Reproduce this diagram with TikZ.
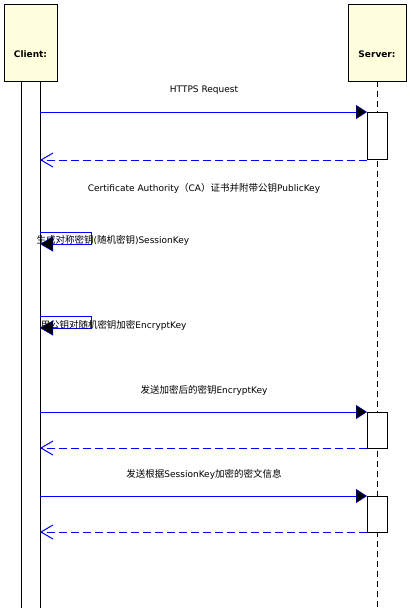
\documentclass[tikz,border=0pt]{standalone}
\usepackage{fontspec}
\setmainfont{DejaVu Sans}
\newfontfamily\cjk{Noto Sans CJK SC}
\usetikzlibrary{arrows.meta}
\definecolor{boxyellow}{RGB}{255,255,221}
\definecolor{msgblue}{RGB}{0,0,255}
\newcommand\zh[1]{{\cjk\fontsize{9.5}{11}\selectfont #1}}
\begin{document}
\begin{tikzpicture}[x=1pt,y=-1pt,line width=1pt,
  lifebox/.style={draw=black,fill=boxyellow,inner sep=0pt,outer sep=0pt,
    minimum width=#1,minimum height=77pt,anchor=north west},
  actbox/.style={draw=black,fill=white,inner sep=0pt,outer sep=0pt,
    minimum width=20pt,minimum height=#1,anchor=north west},
  boxlabel/.style={font=\fontsize{9}{11}\selectfont\bfseries},
  msglabel/.style={font=\fontsize{9}{11}\selectfont,inner sep=0pt},
  lifeline/.style={draw=black,dash pattern=on 6pt off 4pt},
  callmsg/.style={draw=msgblue,-{Triangle[length=11pt,width=14pt,fill=black,line width=0.4pt]}},
  retmsg/.style={draw=msgblue,dash pattern=on 8pt off 4pt,
    -{Straight Barb[length=12pt,width=14pt]}},
  selfmsg/.style={draw=msgblue,-{Triangle[length=13pt,width=15pt,fill=black,line width=0.4pt]}}
]
\useasboundingbox (0,0) rectangle (410,608);

% lifeline boxes
\node[lifebox=53pt] (cbox) at (4,4) {};
\node[boxlabel] (clabel) at ([yshift=-11.5pt]cbox.center) {Client:};
\node[lifebox=58pt] (sbox) at (348,4) {};
\node[boxlabel] (slabel) at ([yshift=-11.5pt]sbox.center) {Server:};

% server lifeline
\coordinate (send) at (377,608);
\draw[lifeline] (sbox.south) -- (send);

% client activation bar
\node[actbox=527pt,minimum width=19pt] (cbar) at (21,81) {};

% server activations
\node[actbox=47pt] (sact1) at (367,112) {};
\node[actbox=36pt] (sact2) at (367,412) {};
\node[actbox=36pt] (sact3) at (367,496) {};

% message 1
\coordinate (c1) at (40,112);
\coordinate (r1) at (40,160);
\draw[callmsg] (c1) -- (sact1.north west);
\draw[retmsg] (sact1.south west) ++(0,1) coordinate (r1s) (r1s) -- (r1);
\node[msglabel] (l1) at (204,90) {HTTPS Request};
\node[msglabel] (l2) at (204,188) {Certificate Authority\zh{（}CA\zh{）证书并附带公钥}PublicKey};

% self messages
\coordinate (s1a) at (40,232);
\coordinate (s1b) at (91,232);
\coordinate (s1c) at (91,244);
\coordinate (s1d) at (40,244);
\draw[selfmsg] (s1a) -- (s1b) -- (s1c) -- (s1d);
\node[msglabel,anchor=west] (l3) at (36,240) {\zh{生成对称密钥}(\zh{随机密钥})SessionKey};

\coordinate (s2a) at (40,316);
\coordinate (s2b) at (91,316);
\coordinate (s2c) at (91,328);
\coordinate (s2d) at (40,328);
\draw[selfmsg] (s2a) -- (s2b) -- (s2c) -- (s2d);
\node[msglabel,anchor=west] (l4) at (40,325) {\zh{用公钥对随机密钥加密}EncryptKey};

% message 2
\coordinate (c2) at (40,412);
\coordinate (r2) at (40,448);
\node[msglabel] (l5) at (204,390) {\zh{发送加密后的密钥}EncryptKey};
\draw[callmsg] (c2) -- (sact2.north west);
\draw[retmsg] (sact2.south west) -- (r2);

% message 3
\coordinate (c3) at (40,496);
\coordinate (r3) at (40,532);
\node[msglabel] (l6) at (204,474) {\zh{发送根据}SessionKey\zh{加密的密文信息}};
\draw[callmsg] (c3) -- (sact3.north west);
\draw[retmsg] (sact3.south west) -- (r3);
\end{tikzpicture}
\end{document}
